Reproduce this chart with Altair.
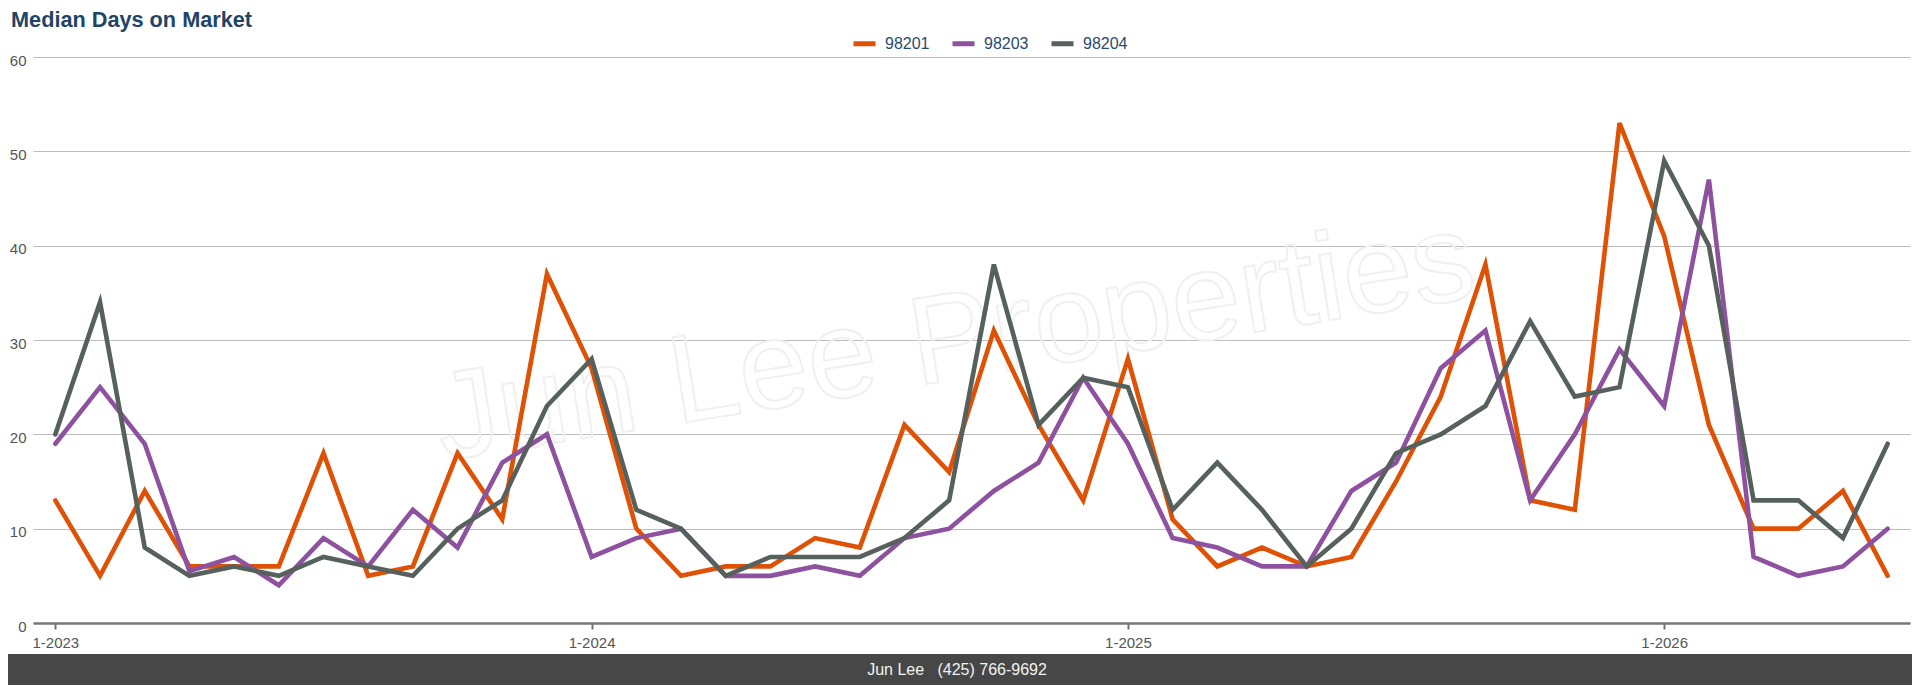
import altair as alt
import pandas as pd

months = [f"{m}-{y}" for y in (2023, 2024, 2025, 2026) for m in range(1, 13)][:42]
jan_ticks = ["1-2023", "1-2024", "1-2025", "1-2026"]

series = ["98201", "98203", "98204"]
colors = ["#df5206", "#8d519f", "#56605d"]

s98201 = [13, 5, 14, 6, 6, 6, 18, 5, 6, 18, 11, 37,
          27, 10, 5, 6, 6, 9, 8, 21, 16, 31, 21, 13,
          28, 11, 6, 8, 6, 7, 15, 24, 38, 13, 12, 53,
          41, 21, 10, 10, 14, 5]
s98203 = [19, 25, 19, 5.5, 7, 4, 9, 6, 12, 8, 17, 20,
          7, 9, 10, 5, 5, 6, 5, 9, 10, 14, 17, 26,
          19, 9, 8, 6, 6, 14, 17, 27, 31, 13, 20, 29,
          23, 47, 7, 5, 6, 10]
s98204 = [20, 34, 8, 5, 6, 5, 7, 6, 5, 10, 13, 23,
          28, 12, 10, 5, 7, 7, 7, 9, 13, 38, 21, 26,
          25, 12, 17, 12, 6, 10, 18, 20, 23, 32, 24, 25,
          49, 40, 13, 13, 9, 19]

title_text = "Median Days on Market"
footer_text = "Jun Lee\u00a0\u00a0\u00a0(425) 766-9692"
watermark_text = "Jun Lee Properties"

rows = []
for name, vals in zip(series, [s98201, s98203, s98204]):
    for m, v in zip(months, vals):
        rows.append({"month": m, "zip": name, "days": v})
df = pd.DataFrame(rows)

W, H = 1877, 566
FONT = "Liberation Sans"

lines = alt.Chart(df).mark_line(strokeWidth=4.6, strokeJoin="miter", strokeCap="round").encode(
    x=alt.X("month:O", sort=months,
            scale=alt.Scale(type="point", padding=0.5),
            axis=alt.Axis(values=jan_ticks, title=None, labelAngle=0,
                          domainColor="#777777", domainWidth=2.5,
                          tickColor="#777777", tickWidth=2, tickSize=6,
                          labelFontSize=15, labelColor="#555555", labelPadding=6,
                          labelFont=FONT, grid=False)),
    y=alt.Y("days:Q", scale=alt.Scale(domain=[0, 60], nice=False),
            axis=alt.Axis(values=[0, 10, 20, 30, 40, 50, 60], title=None,
                          domain=False, ticks=False, labelFontSize=15,
                          labelColor="#555555", labelPadding=7, labelOffset=3,
                          labelFont=FONT, gridColor="#bdbdbd", gridWidth=1.2)),
    color=alt.Color("zip:N", scale=alt.Scale(domain=series, range=colors),
                    legend=alt.Legend(title=None, orient="none", direction="horizontal",
                                      legendX=818, legendY=-27, padding=0,
                                      symbolType="stroke", symbolSize=484,
                                      symbolStrokeWidth=5, labelFontSize=16,
                                      labelFont=FONT, labelColor="#2a4a6e",
                                      labelOffset=7, columnPadding=12)),
)

wm = alt.Chart(pd.DataFrame({"t": [watermark_text]})).mark_text(
    fontSize=125, font=FONT, angle=351, fill="#ffffff", fillOpacity=0,
    stroke="#f0f0f0", strokeWidth=2, align="center", baseline="middle"
).encode(x=alt.value(922), y=alt.value(284), text="t:N")

title = alt.Chart(pd.DataFrame({"t": [title_text]})).mark_text(
    align="left", baseline="alphabetic", fontSize=21.7, fontWeight="bold",
    font=FONT, color="#1f4468"
).encode(x=alt.value(-22), y=alt.value(-30), text="t:N")

footer_bg = alt.Chart(pd.DataFrame({"a": [0]})).mark_rect(color="#474747").encode(
    x=alt.value(-25), x2=alt.value(1879), y=alt.value(597), y2=alt.value(650)
)
footer = alt.Chart(pd.DataFrame({"t": [footer_text]})).mark_text(
    align="center", baseline="alphabetic", fontSize=16, font=FONT, color="#f2f2f2"
).encode(x=alt.value(924), y=alt.value(618), text="t:N")

chart = alt.layer(wm, lines, title, footer_bg, footer).properties(
    width=W, height=H,
    autosize=alt.AutoSizeParams(type="none"),
    padding={"left": 25, "top": 49, "right": 2, "bottom": 62},
    background="white",
).configure_view(stroke=None)

chart.save("out.html", embed_options={"renderer": "svg", "actions": False})
